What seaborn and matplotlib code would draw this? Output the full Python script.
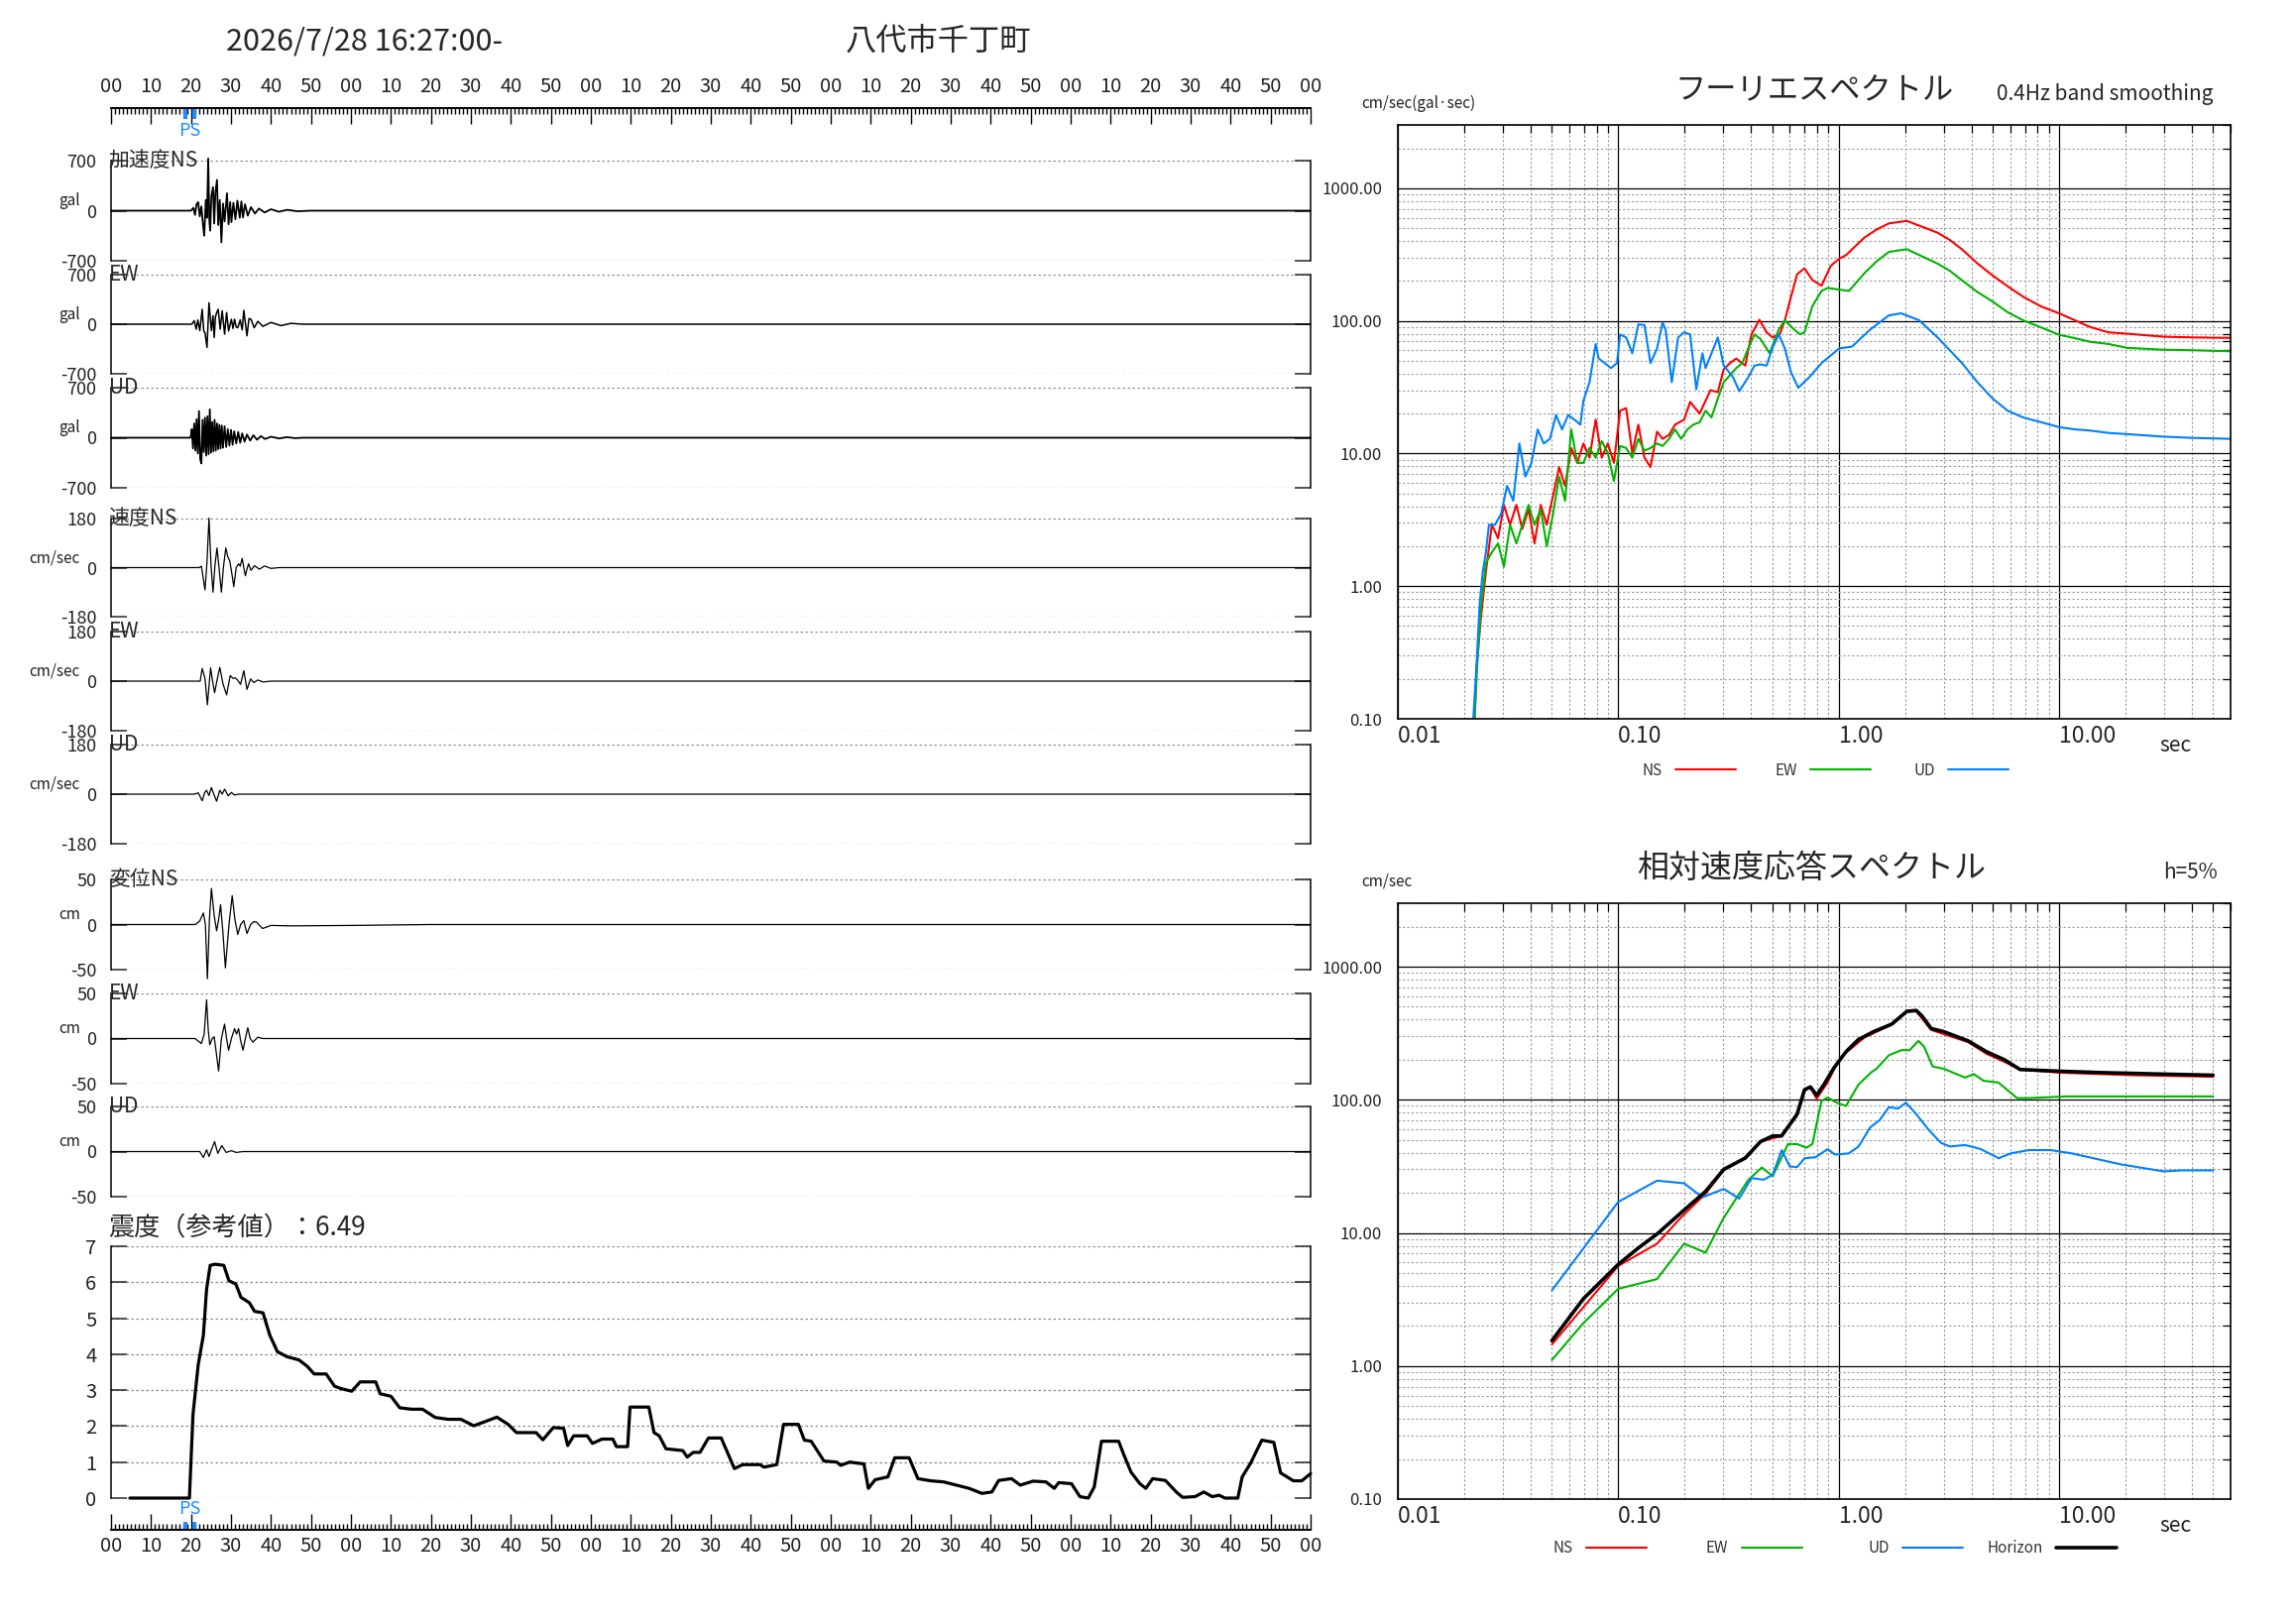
import numpy as np
import seaborn as sns
import matplotlib.pyplot as plt
from matplotlib.legend import Legend
from matplotlib.ticker import LogLocator, NullFormatter, FixedLocator

sns.set_theme(style="white")
plt.rcParams["font.family"] = ["Noto Sans CJK JP", "DejaVu Sans"]
plt.rcParams["axes.unicode_minus"] = False

# ---- waveform data (time [s], value) ----
acc_ns_t = [0, 20.0, 20.6, 21.0, 21.4, 21.8, 22.2, 22.6, 23.0, 23.3, 23.7, 24.0, 24.3, 24.6, 24.8, 25.1,
            25.5, 25.8, 26.1, 26.5, 26.8, 27.2, 27.6, 28.0, 28.4, 29.0, 29.4, 29.8, 30.1, 30.6, 31.1,
            31.6, 32.2, 32.6, 33.0, 33.5, 34.2, 35.0, 36.0, 37.0, 38.4, 40.0, 42.0, 44.0, 46.6, 50.0, 300]
acc_ns_v = [0, 0, 40, -60, 90, 120, -80, 60, -200, -350, 150, -100, 730, -150, -280, 200,
            330, -180, 250, 430, -200, 150, -443, 100, -150, 243, -190, 120, -160, 110, -120,
            140, -100, 130, -95, 90, -70, 50, -40, 30, -25, 20, -15, 12, -8, 0, 0]
acc_ew_t = [0, 20.2, 20.8, 21.3, 21.7, 22.2, 22.8, 23.2, 23.5, 24.0, 24.5, 25.1, 25.5, 25.8, 26.1, 26.4,
            26.8, 27.3, 27.8, 28.4, 28.9, 29.4, 30.1, 30.5, 30.9, 31.3, 31.7, 32.3, 32.8, 33.2, 34.0,
            34.5, 35.0, 35.8, 36.7, 38.0, 40.0, 42.5, 45.0, 48.0, 300]
acc_ew_v = [0, 0, 50, -70, 60, -90, 210, -100, -120, -327, 303, -90, 120, -187, 100, 160,
            210, -70, 190, -140, 165, -95, 70, -60, 70, -40, -50, 60, -80, 196, -163,
            80, 70, -50, 40, -30, 25, -20, 12, 0, 0]
acc_ud_t = [0, 19.9, 20.2, 20.5, 20.8, 21.1, 21.4, 21.7, 22.0, 22.3, 22.6, 22.9, 23.2, 23.5, 23.8, 24.1,
            24.4, 24.7, 25.0, 25.3, 25.6, 25.9, 26.2, 26.5, 26.8, 27.1, 27.4, 27.7, 28.0, 28.4, 28.8,
            29.2, 29.6, 30.0, 30.4, 30.8, 31.3, 31.8, 32.3, 32.8, 33.4, 34.0, 34.8, 35.6, 36.5, 37.5,
            38.5, 40.0, 42.0, 44.0, 46.0, 48.0, 300]
acc_ud_v = [0, 0, 120, -150, 200, -180, 260, -220, 373, -300, -360, 250, -200, 280, -250, 300,
            -230, 397, -210, 220, -190, 250, -180, 200, -160, 180, -150, 170, -140, 160, -130,
            120, -110, 110, -100, 90, -80, 80, -70, 60, -55, 45, -40, 35, -28, 22,
            -18, 14, -10, 8, -6, 0, 0]

vel_ns_t = [0, 22.0, 22.6, 23.5, 24.0, 24.5, 25.0, 25.5, 26.0, 26.5, 27.0, 27.6, 28.1, 28.7, 29.2, 29.7,
            30.2, 30.7, 31.3, 31.9, 32.3, 32.8, 33.2, 33.6, 34.0, 34.4, 35.0, 35.9, 37.1, 38.4, 40.0,
            42.0, 300]
vel_ns_v = [0, 0, 5, -82, 20, 182, 10, -90, 10, 72, 0, -90, 0, 72, 40, 24,
            -20, -70, 0, 14, 5, 34, 0, -30, -5, 14, -10, 7, -6, 6, -3,
            0, 0]
vel_ew_t = [0, 22.3, 22.8, 23.5, 24.1, 24.9, 25.4, 25.9, 26.6, 27.2, 28.0, 28.9, 29.8, 30.5, 31.0, 31.6,
            32.4, 33.2, 34.0, 34.9, 35.7, 36.7, 38.0, 40.0, 300]
vel_ew_v = [0, 0, 46, 10, -86, 48, 0, -42, 10, 50, -10, -50, 20, 10, 12, 5,
            -12, 38, -30, 8, -5, 4, -3, 0, 0]
vel_ud_t = [0, 21.0, 21.8, 22.8, 23.4, 23.9, 24.5, 25.1, 25.7, 26.4, 27.2, 27.8, 28.4, 29.3, 30.1, 30.9,
            32.0, 300]
vel_ud_v = [0, 0, 5, -24, 5, 14, -5, 24, 0, -26, 14, 0, 18, -6, 6, -3, 0, 0]

dis_ns_t = [0, 21.0, 21.4, 22.2, 23.1, 23.6, 24.1, 24.6, 25.1, 25.8, 26.4, 26.9, 27.4, 28.0, 28.6, 29.5,
            30.3, 31.0, 31.7, 32.4, 33.2, 33.6, 34.0, 34.9, 35.6, 36.3, 37.9, 40.0, 45.0, 60.0, 80.0, 300]
dis_ns_v = [0, 0, 1, 4, 12.8, 0, -60, 5, 40, 10, -7, 5, 22, -10, -48, 0,
            32, 5, -11, 0, 4.4, -3, -10, 0, 3, 3, -4.4, -1, -1.5, -1, 0, 0]
dis_ew_t = [0, 20.0, 21.0, 22.6, 23.3, 23.9, 24.3, 24.7, 25.3, 25.8, 26.3, 26.9, 27.6, 28.4, 28.9, 29.4,
            30.1, 30.9, 31.4, 31.9, 32.4, 33.0, 33.6, 34.2, 34.8, 35.5, 36.7, 38.0, 40.0, 300]
dis_ew_v = [0, 0, 0, -5.5, 5, 43, 10, -7, 0, 2, -15, -36, 0, 16, 0, -13,
            0, 11, 5, 11, -2, -13, 0, 12, 0, -4, 1.5, 0, 0, 0]
dis_ud_t = [0, 21.5, 22.2, 23.1, 23.9, 24.5, 25.2, 25.9, 26.7, 27.7, 28.8, 30.1, 31.3, 33.0, 300]
dis_ud_v = [0, 0, 0, -6.6, 2, -5.5, 3, 11, -2, 6.6, -1, 1, -1, 0, 0]

# ---- seismic intensity (time [s], value) ----
int_t = [4.7, 19.6, 20.5, 21.8, 23.1, 23.9, 24.8, 26.0, 28.2, 29.5,
         31.2, 32.5, 34.6, 35.9, 38.0, 39.7, 41.6, 44.0, 47.0, 49.1,
         50.8, 53.8, 55.9, 57.6, 60.2, 62.3, 66.2, 67.3, 70.0, 72.2,
         75.2, 77.9, 81.1, 84.3, 87.5, 90.7, 93.9, 96.5, 99.3, 101.4,
         106.3, 108.0, 110.6, 113.2, 114.2, 115.7, 119.1, 120.4, 122.8, 125.5,
         126.4, 129.2, 129.8, 134.5, 135.8, 137.1, 138.8, 143.0, 144.1, 145.6,
         147.3, 149.4, 152.6, 155.9, 158.0, 162.3, 163.3, 166.5, 168.2, 171.9,
         173.4, 175.1, 178.3, 181.5, 182.5, 184.7, 188.3, 189.4, 191.1, 194.3,
         196.0, 199.6, 201.8, 205.0, 208.2, 211.4, 214.6, 217.8, 220.3, 222.0,
         225.2, 227.4, 230.6, 233.8, 235.9, 237.0, 240.2, 242.3, 244.4, 245.9,
         247.7, 252.0, 253.2, 255.1, 257.3, 258.8, 260.5, 263.7, 266.4, 268.0,
         271.1, 273.3, 275.4, 277.1, 278.6, 281.8, 282.9, 285.0, 287.8, 290.8,
         292.5, 295.7, 297.8, 300.0]
int_v = [0, 0, 2.33, 3.70, 4.53, 5.81, 6.47, 6.50, 6.47, 6.04,
         5.95, 5.58, 5.43, 5.19, 5.15, 4.53, 4.07, 3.93, 3.84, 3.66,
         3.45, 3.45, 3.11, 3.04, 2.97, 3.23, 3.23, 2.90, 2.83, 2.51,
         2.47, 2.47, 2.24, 2.19, 2.19, 2.01, 2.14, 2.25, 2.05, 1.82,
         1.82, 1.62, 1.96, 1.94, 1.46, 1.73, 1.73, 1.52, 1.64, 1.64,
         1.43, 1.43, 2.53, 2.53, 1.82, 1.73, 1.37, 1.32, 1.14, 1.27,
         1.27, 1.67, 1.67, 0.82, 0.93, 0.93, 0.86, 0.93, 2.05, 2.05,
         1.61, 1.58, 1.03, 1.00, 0.91, 1.00, 0.95, 0.27, 0.51, 0.59,
         1.12, 1.12, 0.54, 0.48, 0.45, 0.36, 0.27, 0.13, 0.17, 0.49,
         0.54, 0.36, 0.47, 0.45, 0.27, 0.43, 0.40, 0.04, 0.0, 0.31,
         1.58, 1.58, 1.23, 0.72, 0.40, 0.27, 0.54, 0.49, 0.17, 0.02,
         0.04, 0.17, 0.04, 0.08, 0.0, 0.0, 0.59, 0.97, 1.61, 1.55,
         0.70, 0.48, 0.48, 0.68]
intensity = 6.49
ps_times = [18.6, 20.8]

# ---- Fourier spectrum (period [s], cm/sec) ----
fs_ns_T = [0.0223, 0.0228, 0.0238, 0.0251, 0.0267, 0.0285, 0.0303, 0.0323, 0.0345, 0.0367,
           0.0392, 0.0417, 0.0445, 0.0474, 0.0506, 0.0539, 0.0574, 0.0612, 0.0652, 0.0695,
           0.0741, 0.0790, 0.0842, 0.0897, 0.0956, 0.1019, 0.1086, 0.1158, 0.1234, 0.1315,
           0.140, 0.150, 0.159, 0.170, 0.181, 0.199, 0.212, 0.234, 0.249, 0.262,
           0.283, 0.301, 0.321, 0.343, 0.377, 0.402, 0.437, 0.471, 0.502, 0.542,
           0.570, 0.608, 0.648, 0.700, 0.760, 0.836, 0.921, 1.006, 1.08, 1.31,
           1.49, 1.69, 2.04, 2.81, 3.19, 3.63, 4.26, 4.99, 5.85, 6.87,
           8.32, 10, 11.8, 13.8, 16.7, 20.3, 29.8, 40.9, 60]
fs_ns_V = [0.1, 0.25, 0.57, 1.29, 2.9, 2.3, 4.1, 2.9, 4.1, 2.7,
           3.8, 2.1, 4.1, 2.9, 4.8, 7.9, 5.7, 11.0, 8.5, 11.9,
           9.3, 18, 9.3, 11.9, 8.5, 21, 22, 10.1, 16.5, 9.3,
           7.9, 14.6, 12.9, 13.8, 16.5, 18, 24.5, 20, 25, 30,
           29, 43, 48, 52, 46, 79, 102, 82, 75, 80,
           101, 152, 225, 249, 203, 184, 260, 294, 313, 425,
           489, 543, 567, 462, 408, 346, 271, 220, 182, 152,
           128, 114, 101, 90, 82, 80, 76, 75, 74.4]
fs_ew_T = [0.0223, 0.0229, 0.0238, 0.0251, 0.0267, 0.0285, 0.0303, 0.0323, 0.0345, 0.0367,
           0.0392, 0.0417, 0.0445, 0.0474, 0.0506, 0.0539, 0.0574, 0.0612, 0.0652, 0.0695,
           0.0741, 0.0790, 0.0842, 0.0897, 0.0926, 0.0956, 0.1019, 0.1086, 0.1158, 0.1234,
           0.1315, 0.140, 0.150, 0.159, 0.170, 0.181, 0.193, 0.206, 0.219, 0.234,
           0.249, 0.265, 0.283, 0.301, 0.343, 0.365, 0.389, 0.415, 0.442, 0.486,
           0.535, 0.570, 0.628, 0.669, 0.700, 0.760, 0.836, 0.891, 1.006, 1.114,
           1.31, 1.49, 1.69, 2.04, 2.81, 3.19, 3.63, 4.26, 4.99, 5.85,
           6.87, 8.32, 10, 11.8, 13.8, 16.7, 20.3, 29.8, 40.9, 60]
fs_ew_V = [0.1, 0.25, 0.67, 1.5, 1.8, 2.1, 1.4, 2.9, 2.1, 2.9,
           4.1, 2.9, 3.8, 2.0, 3.5, 6.7, 4.4, 15.2, 8.5, 8.5,
           11, 9.3, 12.4, 10.1, 7.9, 6.2, 11.4, 11, 9.3, 12.9,
           10.5, 11, 11.9, 11.4, 12.9, 15.2, 12.9, 15.2, 16.5, 17.2,
           21, 18.7, 26, 34.5, 44, 48, 62, 79, 73, 57,
           86, 101, 86, 79, 82, 129, 168, 177, 172, 168,
           229, 282, 331, 347, 270, 239, 202, 165, 140, 116,
           101, 89, 78.6, 74, 69.6, 67, 62.6, 60.6, 60, 59]
fs_ud_T = [0.0220, 0.0228, 0.0235, 0.0243, 0.0251, 0.0259, 0.0276, 0.0294, 0.0313, 0.0334,
           0.0356, 0.0379, 0.0404, 0.0431, 0.0459, 0.0490, 0.0522, 0.0556, 0.0593, 0.0632,
           0.0673, 0.0695, 0.0741, 0.0790, 0.0815, 0.0869, 0.0926, 0.0987, 0.1019, 0.1086,
           0.1158, 0.1234, 0.1315, 0.140, 0.150, 0.159, 0.164, 0.175, 0.187, 0.199,
           0.212, 0.226, 0.241, 0.249, 0.265, 0.283, 0.301, 0.332, 0.354, 0.389,
           0.415, 0.442, 0.471, 0.502, 0.535, 0.570, 0.608, 0.656, 0.736, 0.836,
           1.006, 1.15, 1.39, 1.69, 1.92, 2.32, 2.81, 3.63, 4.26, 4.99,
           5.85, 6.87, 8.32, 10, 11.8, 13.8, 16.7, 20.3, 29.8, 40.9, 60]
fs_ud_V = [0.1, 0.27, 0.73, 1.29, 1.8, 2.9, 2.9, 3.5, 5.7, 4.4,
           11.9, 6.7, 8.5, 15.2, 11.9, 12.9, 19.5, 15.2, 19.5, 18,
           16.5, 25, 34.5, 67, 52, 48, 44, 48, 79, 75,
           57, 94, 93, 48, 62, 97, 86, 34.5, 75, 82,
           79, 30.5, 57, 44, 57, 75, 46, 37.6, 29.5, 37.6,
           46, 47, 46, 63, 79, 62, 41, 31.3, 37.6, 48,
           62, 64, 86, 110, 114, 101, 75, 48, 34.5, 26,
           21, 18.7, 17.2, 15.8, 15.2, 14.9, 14.3, 14.0, 13.4, 13.1, 12.9]

# ---- relative velocity response spectrum h=5% (period [s], cm/sec) ----
rs_ns_T = [0.05, 0.1, 0.150, 0.193, 0.249, 0.301, 0.377, 0.442, 0.551, 0.648,
           0.700, 0.745, 0.795, 0.891, 0.981, 1.08, 1.31, 1.74, 2.04, 2.25,
           2.63, 3.87, 4.68, 5.65, 6.65, 10, 21.6, 50]
rs_ns_V = [1.45, 5.65, 8.3, 13.1, 19.7, 29.6, 37, 48.5, 53.5, 76,
           118, 123, 102, 135, 187, 226, 294, 367, 462, 462,
           335, 271, 222, 193, 169, 160, 153, 149]
rs_ew_T = [0.05, 0.0695, 0.1, 0.150, 0.199, 0.249, 0.301, 0.389, 0.448, 0.502,
           0.589, 0.648, 0.714, 0.760, 0.836, 0.891, 0.981, 1.08, 1.23, 1.40,
           1.49, 1.69, 1.92, 2.10, 2.30, 2.44, 2.67, 3.00, 3.74, 4.11,
           4.54, 5.3, 6.45, 7.3, 10.7, 50]
rs_ew_V = [1.11, 2.1, 3.8, 4.5, 8.3, 7.1, 13.0, 25, 31, 26.7,
           46.5, 46.5, 43.6, 46.5, 98, 104, 95, 90, 130, 160,
           172, 216, 236, 236, 277, 251, 178, 171, 147, 156,
           139, 135, 103, 103, 106, 106]
rs_ud_T = [0.05, 0.0695, 0.1, 0.150, 0.199, 0.241, 0.301, 0.354, 0.402, 0.457,
           0.502, 0.552, 0.600, 0.648, 0.700, 0.785, 0.891, 0.962, 1.11, 1.23,
           1.39, 1.53, 1.69, 1.86, 2.02, 2.25, 2.55, 2.90, 3.19, 3.74,
           4.39, 5.32, 6.04, 7.31, 9.14, 11.4, 19.1, 29.8, 36.0, 50]
rs_ud_V = [3.7, 7.65, 17.1, 24.7, 23.6, 18.5, 21.4, 18.1, 25.8, 25.1,
           27.3, 41.9, 31.6, 31.2, 36.4, 37, 42.6, 38.8, 39.5, 44.5,
           62, 70, 88, 86, 95, 78, 60, 47.7, 44.6, 45.7,
           42.8, 36.4, 39.6, 41.9, 41.9, 39.6, 32.7, 29.0, 29.5, 29.5]
rs_h_T = [0.05, 0.0695, 0.1, 0.1234, 0.150, 0.193, 0.249, 0.301, 0.377, 0.442,
          0.502, 0.551, 0.648, 0.700, 0.745, 0.795, 0.862, 0.950, 1.08, 1.23,
          1.44, 1.74, 2.04, 2.25, 2.39, 2.63, 3.00, 3.87, 4.68, 5.65,
          6.65, 10, 15.8, 29.8, 50]
rs_h_V = [1.55, 3.2, 5.8, 7.7, 9.8, 14.2, 20.5, 30, 36.5, 48.5,
          53.5, 53.5, 78, 119, 125, 108, 132, 173, 230, 284,
          325, 370, 462, 469, 426, 343, 325, 277, 230, 200,
          169, 164, 160, 156, 153]

time_labels = ["00", "10", "20", "30", "40", "50"] * 5 + ["00"]

RED, GREEN, BLUE = "#FF0000", "#00B400", "#0080FF"
PS_BLUE = "#1E8CFF"
DOT = (0, (2, 2))

W, H = 2316, 1637
fig = plt.figure(figsize=(W / 100, H / 100), dpi=100)


def box(x0, y0, x1, y1):
    return [x0 / W, 1 - y1 / H, (x1 - x0) / W, (y1 - y0) / H]


def at(x, y):
    return x / W, 1 - y / H


def wave_panel(y0, y1, name, t, v, lim, unit, lw):
    ax = fig.add_axes(box(112, y0, 1322, y1))
    ax.patch.set_alpha(0)
    sns.lineplot(x=t, y=v, ax=ax, color="black", lw=lw, estimator=None, sort=False, clip_on=False)
    ax.set_xlim(0, 300)
    ax.set_ylim(-lim, lim)
    ax.set_xticks([])
    ax.set_xlabel("")
    ax.set_ylabel("")
    ax.set_yticks([-lim, 0, lim])
    ax.set_yticklabels([f"-{lim}", "0", f"{lim}"])
    ax.tick_params(axis="y", direction="in", length=11.5, width=1.1, left=True, right=True,
                   labelsize=13, pad=10.5, labelcolor="#222222")
    for s in ["top", "bottom"]:
        ax.spines[s].set_visible(False)
    for s in ["left", "right"]:
        ax.spines[s].set_color("black")
        ax.spines[s].set_linewidth(1.1)
    for yy in (-lim, lim):
        ax.axhline(yy, color="#8a8a8a", lw=0.9, ls=DOT, zorder=0)
    ax.text(-0.002, 1.0, name, transform=ax.transAxes, ha="left", va="center", fontsize=15)
    ax.annotate(unit, xy=(0, 0), xycoords=("axes fraction", "data"), xytext=(-31, 10),
                textcoords="offset pixels", ha="right", va="center", fontsize=11, color="#222222")
    return ax


# ---- titles ----
fig.text(*at(368, 42), "2026/7/28 16:27:00-", ha="center", va="center", fontsize=22)
fig.text(*at(947, 42), "八代市千丁町", ha="center", va="center", fontsize=22.5)

# ---- waveform panels ----
wave_panel(162, 263, "加速度NS", acc_ns_t, acc_ns_v, 700, "gal", 1.3)
wave_panel(277, 377, "EW", acc_ew_t, acc_ew_v, 700, "gal", 1.1)
wave_panel(391, 492, "UD", acc_ud_t, acc_ud_v, 700, "gal", 1.3)
wave_panel(523, 622, "速度NS", vel_ns_t, vel_ns_v, 180, "cm/sec", 0.9)
wave_panel(637, 737, "EW", vel_ew_t, vel_ew_v, 180, "cm/sec", 0.9)
wave_panel(751, 851, "UD", vel_ud_t, vel_ud_v, 180, "cm/sec", 0.9)
wave_panel(887, 978, "変位NS", dis_ns_t, dis_ns_v, 50, "cm", 0.9)
wave_panel(1002, 1093, "EW", dis_ew_t, dis_ew_v, 50, "cm", 0.9)
wave_panel(1116, 1207, "UD", dis_ud_t, dis_ud_v, 50, "cm", 0.9)

# ---- intensity panel ----
axi = fig.add_axes(box(112, 1257, 1322, 1511))
axi.patch.set_alpha(0)
sns.lineplot(x=int_t, y=int_v, ax=axi, color="black", lw=2.3, estimator=None, sort=False, clip_on=False)
axi.set_xlim(0, 300)
axi.set_ylim(0, 7)
axi.set_xticks([])
axi.set_xlabel("")
axi.set_ylabel("")
axi.set_yticks(range(8))
axi.tick_params(axis="y", direction="in", length=11.5, width=1.1, left=True, right=True,
                labelsize=14.5, pad=10.5, labelcolor="#222222")
for s in ["top", "bottom"]:
    axi.spines[s].set_visible(False)
for s in ["left", "right"]:
    axi.spines[s].set_color("black")
    axi.spines[s].set_linewidth(1.1)
for yy in range(8):
    axi.axhline(yy, color="#8a8a8a", lw=0.9, ls=DOT, zorder=0)
axi.text(-0.002, 1 + 19 / 254, f"震度（参考値）：{intensity:.2f}", transform=axi.transAxes,
         ha="left", va="center", fontsize=18.8)


# ---- time rulers ----
def ruler(y0, y1, top):
    ax = fig.add_axes(box(112, y0, 1322, y1))
    ax.patch.set_alpha(0)
    ax.set_xlim(0, 300)
    ax.set_ylim(0, 1)
    ax.set_yticks([])
    ax.set_xticks(np.arange(0, 301, 10))
    ax.set_xticklabels(time_labels)
    ax.xaxis.set_minor_locator(FixedLocator(np.arange(0, 301, 1)))
    for s in ["left", "right", "top", "bottom"]:
        ax.spines[s].set_visible(False)
    side = "top" if top else "bottom"
    ax.spines[side].set_visible(True)
    ax.spines[side].set_color("black")
    ax.spines[side].set_linewidth(1.4)
    ax.tick_params(axis="x", which="both", direction="in", top=top, bottom=not top,
                   labeltop=top, labelbottom=not top, color="black", width=1.0)
    ax.tick_params(axis="x", which="major", length=11.5, labelsize=14.5, pad=8 if top else 4,
                   labelcolor="#222222")
    ax.tick_params(axis="x", which="minor", length=4.5)
    if top:
        ax.vlines(ps_times, 0.35, 1.0, color=PS_BLUE, lw=3)
        ax.text(np.mean(ps_times), -0.35, "PS", ha="center", va="center", color=PS_BLUE,
                fontsize=13, transform=ax.get_xaxis_transform())
    else:
        ax.vlines(ps_times, 0.0, 0.47, color=PS_BLUE, lw=3)
        ax.text(np.mean(ps_times), 1.25, "PS", ha="center", va="center", color=PS_BLUE,
                fontsize=13, transform=ax.get_xaxis_transform())
    return ax


ruler(109, 126, True)
ruler(1526, 1543, False)


# ---- spectra ----
def spec_axes(y0, y1):
    ax = fig.add_axes(box(1410, y0, 2250, y1))
    ax.set_xscale("log")
    ax.set_yscale("log")
    return ax


def spec_style(ax):
    ax.set_xlim(0.01, 60)
    ax.set_ylim(0.1, 3000)
    ax.set_xlabel("")
    ax.set_ylabel("")
    ax.set_xticks([0.01, 0.1, 1, 10])
    ax.set_xticklabels(["0.01", "0.10", "1.00", "10.00"], ha="left")
    ax.set_yticks([0.1, 1, 10, 100, 1000])
    ax.set_yticklabels(["0.10", "1.00", "10.00", "100.00", "1000.00"])
    ax.xaxis.set_minor_locator(LogLocator(base=10, subs=np.arange(2, 10), numticks=100))
    ax.yaxis.set_minor_locator(LogLocator(base=10, subs=np.arange(2, 10), numticks=100))
    ax.xaxis.set_minor_formatter(NullFormatter())
    ax.yaxis.set_minor_formatter(NullFormatter())
    ax.set_axisbelow(True)
    ax.grid(True, which="major", color="black", lw=0.9, ls="-")
    ax.grid(True, which="minor", color="#9a9a9a", lw=0.8, ls=DOT)
    ax.tick_params(which="both", direction="in", top=True, right=True, color="black")
    ax.tick_params(which="minor", length=5.5, width=0.9)
    ax.tick_params(which="major", length=0)
    ax.tick_params(axis="x", which="major", labelsize=16.5, pad=4, labelcolor="#222222")
    ax.tick_params(axis="y", which="major", labelsize=12, pad=11.5, labelcolor="#222222")
    for s in ax.spines.values():
        s.set_color("black")
        s.set_linewidth(1.2)
        s.set_visible(True)
    ax.text(0.915, -0.045, "sec", transform=ax.transAxes, fontsize=15, color="#222222",
            ha="left", va="center")


def spec_legend(ax, entries, y):
    handles, labels = ax.get_legend_handles_labels()
    lookup = dict(zip(labels, handles))
    for label, x in entries:
        leg = Legend(ax, [lookup[label]], [label], loc="center left", bbox_to_anchor=at(x, y),
                     bbox_transform=fig.transFigure, frameon=False, markerfirst=False,
                     handlelength=4.0, handletextpad=0.9, borderpad=0, borderaxespad=0,
                     fontsize=11, labelcolor="#333333")
        ax.add_artist(leg)


# Fourier spectrum
axf = spec_axes(126, 725)
sns.lineplot(x=fs_ns_T, y=fs_ns_V, ax=axf, color=RED, lw=1.5, label="NS", legend=False,
             estimator=None, sort=False)
sns.lineplot(x=fs_ew_T, y=fs_ew_V, ax=axf, color=GREEN, lw=1.5, label="EW", legend=False,
             estimator=None, sort=False)
sns.lineplot(x=fs_ud_T, y=fs_ud_V, ax=axf, color=BLUE, lw=1.5, label="UD", legend=False,
             estimator=None, sort=False)
spec_style(axf)
spec_legend(axf, [("NS", 1656), ("EW", 1790), ("UD", 1930)], 777)
fig.text(*at(1830, 91), "フーリエスペクトル", ha="center", va="center", fontsize=22.5)
fig.text(*at(2014, 95), "0.4Hz band smoothing", ha="left", va="center", fontsize=15)
fig.text(*at(1373, 104), "cm/sec(gal·sec)", ha="left", va="center", fontsize=11, color="#222222")

# Response spectrum
axr = spec_axes(911, 1512)
sns.lineplot(x=rs_ns_T, y=rs_ns_V, ax=axr, color=RED, lw=1.5, label="NS", legend=False,
             estimator=None, sort=False)
sns.lineplot(x=rs_ew_T, y=rs_ew_V, ax=axr, color=GREEN, lw=1.5, label="EW", legend=False,
             estimator=None, sort=False)
sns.lineplot(x=rs_ud_T, y=rs_ud_V, ax=axr, color=BLUE, lw=1.5, label="UD", legend=False,
             estimator=None, sort=False)
sns.lineplot(x=rs_h_T, y=rs_h_V, ax=axr, color="black", lw=2.6, label="Horizon", legend=False,
             estimator=None, sort=False)
spec_style(axr)
spec_legend(axr, [("NS", 1566), ("EW", 1721), ("UD", 1884), ("Horizon", 2004)], 1562)
fig.text(*at(1827, 876), "相対速度応答スペクトル", ha="center", va="center", fontsize=23)
fig.text(*at(2237, 880), "h=5%", ha="right", va="center", fontsize=15)
fig.text(*at(1373, 889), "cm/sec", ha="left", va="center", fontsize=11, color="#222222")

fig.savefig("out.png", dpi=100)
